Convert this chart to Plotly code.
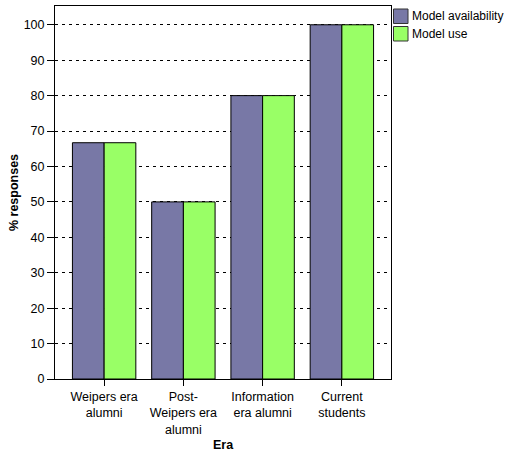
import plotly.graph_objects as go

categories = ["Weipers era<br>alumni", "Post-<br>Weipers era<br>alumni", "Information<br>era alumni", "Current<br>students"]
series_names = ["Model availability", "Model use"]
availability = [66.7, 50, 80, 100]
use = [66.7, 50, 80, 100]
colors = ["#7878A6", "#99FF66"]

FONT = "Liberation Sans, Arial, Helvetica, sans-serif"

fig = go.Figure()
for name, vals, col in zip(series_names, [availability, use], colors):
    fig.add_trace(go.Bar(x=categories, y=vals, name=name, showlegend=False,
                         marker=dict(color=col, line=dict(color="black", width=1))))

# custom legend (swatches + labels) to the right of the plot
W, H = 515, 457
L, R, T, B = 55, 124, 6, 78
pw, ph = W - L - R, H - T - B
def px2x(px):
    return (px - L) / pw
def px2y(py):
    return (H - B - py) / ph

shapes, annotations = [], []
for i, (name, col) in enumerate(zip(series_names, colors)):
    top = 9 + i * 17.5
    shapes.append(dict(type="rect", xref="paper", yref="paper",
                       x0=px2x(393.5), x1=px2x(408), y0=px2y(top + 14.5), y1=px2y(top),
                       fillcolor=col, line=dict(color="#333333", width=1)))
    annotations.append(dict(text=name, xref="paper", yref="paper", x=px2x(409.5), y=px2y(top + 7.2),
                            xanchor="left", yanchor="middle", showarrow=False,
                            font=dict(size=12, family=FONT, color="black")))
annotations.append(dict(text="<b>Era</b>", xref="paper", yref="paper", x=0.5, y=px2y(445),
                        xanchor="center", yanchor="middle", showarrow=False,
                        font=dict(size=12.5, family=FONT, color="black")))

fig.update_layout(
    width=W, height=H,
    margin=dict(l=L, r=R, t=T, b=B, autoexpand=False),
    paper_bgcolor="white", plot_bgcolor="white",
    barmode="group", bargap=0.2, bargroupgap=0,
    font=dict(family=FONT, size=12.5, color="black"),
    shapes=shapes, annotations=annotations,
    showlegend=False,
)
fig.update_xaxes(
    range=[-0.62, 3.62], showline=True, linecolor="black", linewidth=1, mirror=True,
    ticks="outside", ticklen=6, tickcolor="black", showgrid=False, automargin=False,
    tickfont=dict(size=12.5), tickangle=0,
)
fig.update_yaxes(
    range=[0, 105.3], showline=True, linecolor="black", linewidth=1, mirror=True,
    ticks="outside", ticklen=7, tickcolor="black", automargin=False,
    tickvals=[0, 10, 20, 30, 40, 50, 60, 70, 80, 90, 100], tickfont=dict(size=12.5),
    showgrid=True, gridcolor="black", gridwidth=1, griddash="3px,4px",
    zeroline=False,
    title=dict(text="<b>% responses</b>", font=dict(size=12.5), standoff=2),
)
fig.write_html("out.html", config={"displayModeBar": False},
               post_script="document.body.style.margin='0';document.body.style.overflow='hidden';")
